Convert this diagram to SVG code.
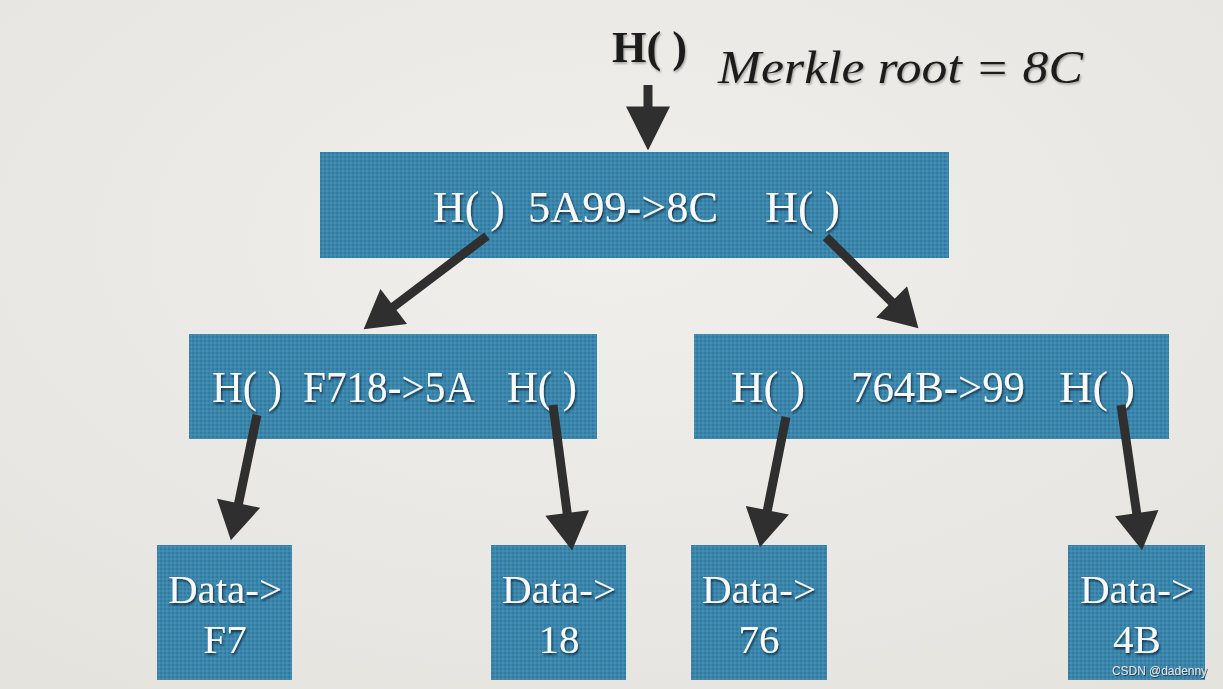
<svg xmlns="http://www.w3.org/2000/svg" width="1223" height="689" viewBox="0 0 1223 689">
<defs>
<radialGradient id="bg" cx="0.5" cy="0.35" r="0.8">
<stop offset="0" stop-color="#f0efeb"/>
<stop offset="1" stop-color="#e4e3de"/>
</radialGradient>
<pattern id="tex" width="4" height="4" patternUnits="userSpaceOnUse">
<rect width="4" height="4" fill="#3a86ad"/>
<rect x="0" y="0" width="2" height="2" fill="#327a9f"/>
<rect x="2" y="2" width="2" height="2" fill="#448eb4"/>
</pattern>
<filter id="ts" x="-10%" y="-20%" width="130%" height="150%">
<feDropShadow dx="1" dy="2" stdDeviation="1" flood-color="#0e2433" flood-opacity="0.85"/>
</filter>
<filter id="ds" x="-10%" y="-20%" width="130%" height="150%">
<feDropShadow dx="1" dy="1.5" stdDeviation="1.2" flood-color="#000" flood-opacity="0.35"/>
</filter>
<filter id="ws" x="-10%" y="-30%" width="130%" height="180%">
<feDropShadow dx="0.8" dy="0.8" stdDeviation="0.6" flood-color="#1a2630" flood-opacity="0.9"/>
</filter>
<marker id="ah" markerUnits="userSpaceOnUse" markerWidth="40" markerHeight="44" viewBox="0 0 36 42" refX="26" refY="21" orient="auto">
<path d="M0,0 L36,21 L0,42 Z" fill="#2f2f2f"/>
</marker>
<marker id="ahTop" markerUnits="userSpaceOnUse" markerWidth="44" markerHeight="44" viewBox="0 0 42 42" refX="32" refY="21" orient="auto">
<path d="M0,0 L42,21 L0,42 Z" fill="#2f2f2f"/>
</marker>
<style>
.box{fill:url(#tex);}
.wt{font-family:"Liberation Serif","Times New Roman",serif;fill:#f7f9fa;filter:url(#ts);}
.mid{font-size:44px;}
.leaf{font-size:41px;text-anchor:middle;}
.conn{stroke:#2f2f2f;stroke-width:9;fill:none;}
.dark{font-family:"Liberation Serif","Times New Roman",serif;fill:#1e1e1e;filter:url(#ds);}
</style>
</defs>
<rect width="1223" height="689" fill="url(#bg)"/>

<g id="root-label">
<text class="dark" x="612" y="62" font-size="44" font-weight="bold" textLength="75" lengthAdjust="spacingAndGlyphs">H( )</text>
<text class="dark" x="718" y="83" font-size="47" font-style="italic" textLength="365" lengthAdjust="spacingAndGlyphs">Merkle root = 8C</text>
</g>

<g id="node-root">
<rect class="box" x="320" y="152" width="629" height="106"/>
<text class="wt mid" x="433" y="222" textLength="72" lengthAdjust="spacingAndGlyphs">H( )</text>
<text class="wt mid" x="528" y="222" textLength="190" lengthAdjust="spacingAndGlyphs">5A99-&gt;8C</text>
<text class="wt mid" x="765" y="222" textLength="75" lengthAdjust="spacingAndGlyphs">H( )</text>
</g>

<g id="node-5A">
<rect class="box" x="189" y="334" width="408" height="105"/>
<text class="wt mid" x="212" y="402" textLength="70" lengthAdjust="spacingAndGlyphs">H( )</text>
<text class="wt mid" x="303" y="402" textLength="172" lengthAdjust="spacingAndGlyphs">F718-&gt;5A</text>
<text class="wt mid" x="507" y="402" textLength="70" lengthAdjust="spacingAndGlyphs">H( )</text>
</g>

<g id="node-99">
<rect class="box" x="694" y="334" width="475" height="105"/>
<text class="wt mid" x="731" y="402" textLength="74" lengthAdjust="spacingAndGlyphs">H( )</text>
<text class="wt mid" x="851" y="402" textLength="174" lengthAdjust="spacingAndGlyphs">764B-&gt;99</text>
<text class="wt mid" x="1059" y="402" textLength="76" lengthAdjust="spacingAndGlyphs">H( )</text>
</g>

<g id="leaf-F7">
<rect class="box" x="157" y="545" width="135" height="135"/>
<text class="wt leaf" x="225" y="603">Data-&gt;</text>
<text class="wt leaf" x="225" y="653">F7</text>
</g>

<g id="leaf-18">
<rect class="box" x="491" y="545" width="135" height="135"/>
<text class="wt leaf" x="559" y="603">Data-&gt;</text>
<text class="wt leaf" x="559" y="653">18</text>
</g>

<g id="leaf-76">
<rect class="box" x="691" y="545" width="136" height="135"/>
<text class="wt leaf" x="759" y="603">Data-&gt;</text>
<text class="wt leaf" x="759" y="653">76</text>
</g>

<g id="leaf-4B">
<rect class="box" x="1068" y="545" width="137" height="135"/>
<text class="wt leaf" x="1137" y="603">Data-&gt;</text>
<text class="wt leaf" x="1137" y="653">4B</text>
</g>

<g id="connectors">
<line class="conn" x1="648" y1="85" x2="648" y2="140" marker-end="url(#ahTop)"/>
<line class="conn" x1="487" y1="236" x2="372" y2="323" marker-end="url(#ah)"/>
<line class="conn" x1="826" y1="237" x2="911" y2="321" marker-end="url(#ah)"/>
<line class="conn" x1="257" y1="415" x2="233" y2="530" marker-end="url(#ah)"/>
<line class="conn" x1="553" y1="405" x2="570.7" y2="540" marker-end="url(#ah)"/>
<line class="conn" x1="786" y1="417" x2="762" y2="537" marker-end="url(#ah)"/>
<line class="conn" x1="1121" y1="405" x2="1140.6" y2="540" marker-end="url(#ah)"/>
</g>

<text x="1112" y="675" font-family="Liberation Sans, Arial, sans-serif" font-size="12.5" fill="#dfe2e5" filter="url(#ws)" textLength="95" lengthAdjust="spacingAndGlyphs">CSDN @dadenny</text>
</svg>
